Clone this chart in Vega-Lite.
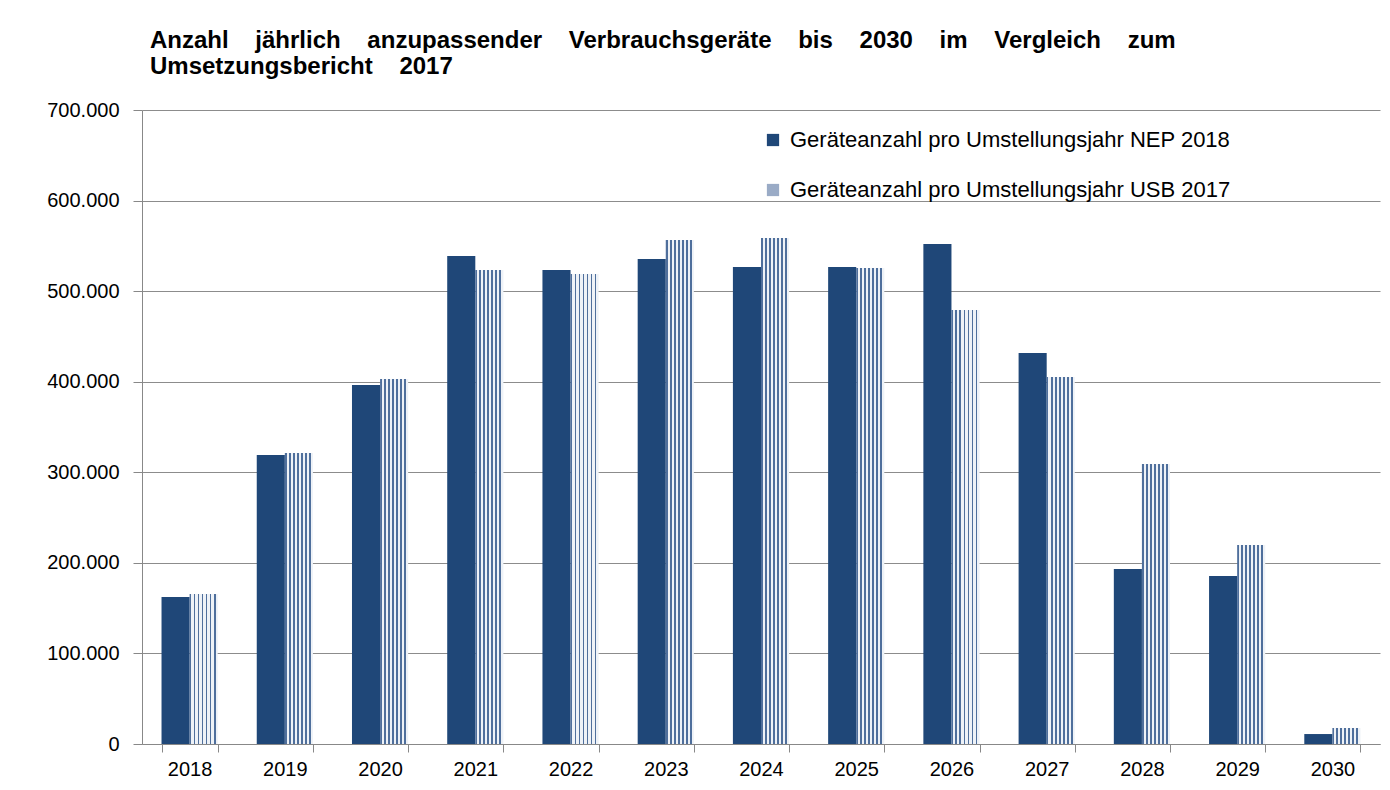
{
  "$schema": "https://vega.github.io/schema/vega-lite/v6.json",
  "width": 1238,
  "height": 634,
  "autosize": {"type": "none"},
  "padding": {"left": 142, "top": 110, "right": 10, "bottom": 46},
  "background": "white",
  "config": {
    "locale": {"number": {"decimal": ",", "thousands": ".", "grouping": [3], "currency": ["", " €"]}},
    "font": "Liberation Sans",
    "view": {"stroke": null}
  },
  "title": {
    "text": ["Anzahl \u00a0\u00a0\u00a0jährlich \u00a0\u00a0\u00a0anzupassender \u00a0\u00a0\u00a0Verbrauchsgeräte \u00a0\u00a0\u00a0bis \u00a0\u00a0\u00a02030 \u00a0\u00a0\u00a0im \u00a0\u00a0\u00a0Vergleich \u00a0\u00a0\u00a0zum", "Umsetzungsbericht \u00a0\u00a0\u00a02017"],
    "anchor": "start",
    "frame": "group",
    "dx": 8,
    "offset": 21,
    "fontSize": 24,
    "fontWeight": "bold",
    "font": "Liberation Sans",
    "lineHeight": 26,
    "color": "#000000"
  },
  "data": {
    "values": [
      {"year": "2018", "series": "Geräteanzahl pro Umstellungsjahr NEP 2018", "value": 162300},
      {"year": "2018", "series": "Geräteanzahl pro Umstellungsjahr USB 2017", "value": 165600},
      {"year": "2019", "series": "Geräteanzahl pro Umstellungsjahr NEP 2018", "value": 319100},
      {"year": "2019", "series": "Geräteanzahl pro Umstellungsjahr USB 2017", "value": 321300},
      {"year": "2020", "series": "Geräteanzahl pro Umstellungsjahr NEP 2018", "value": 396400},
      {"year": "2020", "series": "Geräteanzahl pro Umstellungsjahr USB 2017", "value": 403000},
      {"year": "2021", "series": "Geräteanzahl pro Umstellungsjahr NEP 2018", "value": 538800},
      {"year": "2021", "series": "Geräteanzahl pro Umstellungsjahr USB 2017", "value": 523400},
      {"year": "2022", "series": "Geräteanzahl pro Umstellungsjahr NEP 2018", "value": 523400},
      {"year": "2022", "series": "Geräteanzahl pro Umstellungsjahr USB 2017", "value": 519000},
      {"year": "2023", "series": "Geräteanzahl pro Umstellungsjahr NEP 2018", "value": 535500},
      {"year": "2023", "series": "Geräteanzahl pro Umstellungsjahr USB 2017", "value": 556500},
      {"year": "2024", "series": "Geräteanzahl pro Umstellungsjahr NEP 2018", "value": 526700},
      {"year": "2024", "series": "Geräteanzahl pro Umstellungsjahr USB 2017", "value": 558700},
      {"year": "2025", "series": "Geräteanzahl pro Umstellungsjahr NEP 2018", "value": 526700},
      {"year": "2025", "series": "Geräteanzahl pro Umstellungsjahr USB 2017", "value": 525600},
      {"year": "2026", "series": "Geräteanzahl pro Umstellungsjahr NEP 2018", "value": 552000},
      {"year": "2026", "series": "Geräteanzahl pro Umstellungsjahr USB 2017", "value": 479200},
      {"year": "2027", "series": "Geräteanzahl pro Umstellungsjahr NEP 2018", "value": 431700},
      {"year": "2027", "series": "Geräteanzahl pro Umstellungsjahr USB 2017", "value": 405200},
      {"year": "2028", "series": "Geräteanzahl pro Umstellungsjahr NEP 2018", "value": 193200},
      {"year": "2028", "series": "Geräteanzahl pro Umstellungsjahr USB 2017", "value": 309200},
      {"year": "2029", "series": "Geräteanzahl pro Umstellungsjahr NEP 2018", "value": 185500},
      {"year": "2029", "series": "Geräteanzahl pro Umstellungsjahr USB 2017", "value": 219700},
      {"year": "2030", "series": "Geräteanzahl pro Umstellungsjahr NEP 2018", "value": 11000},
      {"year": "2030", "series": "Geräteanzahl pro Umstellungsjahr USB 2017", "value": 17700}
    ]
  },
  "mark": {"type": "bar"},
  "encoding": {
    "x": {
      "field": "year",
      "type": "nominal",
      "title": null,
      "scale": {"paddingInner": 0.41, "paddingOuter": 0.205},
      "axis": {
        "labelAngle": 0,
        "labelFontSize": 20,
        "labelColor": "#000000",
        "labelPadding": 7,
        "domainColor": "#888888",
        "tickColor": "#888888",
        "tickBand": "extent",
        "tickSize": 8,
        "grid": false
      }
    },
    "xOffset": {"field": "series", "type": "nominal", "scale": {"paddingInner": 0, "paddingOuter": 0}},
    "y": {
      "field": "value",
      "type": "quantitative",
      "title": null,
      "scale": {"domain": [0, 700000], "nice": false},
      "axis": {
        "values": [0, 100000, 200000, 300000, 400000, 500000, 600000, 700000],
        "format": ",d",
        "labelFontSize": 20,
        "labelColor": "#000000",
        "labelPadding": 14,
        "domainColor": "#888888",
        "tickColor": "#888888",
        "tickSize": 9,
        "gridColor": "#8c8c8c",
        "gridWidth": 1
      }
    },
    "fill": {
      "field": "series",
      "type": "nominal",
      "scale": {"range": ["#1f4778", "#9aabc6"]},
      "condition": {
        "test": "indexof(datum.series, 'USB') >= 0",
        "value": {
          "gradient": "linear",
          "x1": 0, "y1": 0, "x2": 1, "y2": 0,
          "stops": [
            {"offset": 0, "color": "#4f6f9c"}, {"offset": 0.0643, "color": "#4f6f9c"},
            {"offset": 0.0643, "color": "#eef2f7"}, {"offset": 0.1429, "color": "#eef2f7"},
            {"offset": 0.1429, "color": "#4f6f9c"}, {"offset": 0.2071, "color": "#4f6f9c"},
            {"offset": 0.2071, "color": "#eef2f7"}, {"offset": 0.2857, "color": "#eef2f7"},
            {"offset": 0.2857, "color": "#4f6f9c"}, {"offset": 0.35, "color": "#4f6f9c"},
            {"offset": 0.35, "color": "#eef2f7"}, {"offset": 0.4286, "color": "#eef2f7"},
            {"offset": 0.4286, "color": "#4f6f9c"}, {"offset": 0.4929, "color": "#4f6f9c"},
            {"offset": 0.4929, "color": "#eef2f7"}, {"offset": 0.5714, "color": "#eef2f7"},
            {"offset": 0.5714, "color": "#4f6f9c"}, {"offset": 0.6357, "color": "#4f6f9c"},
            {"offset": 0.6357, "color": "#eef2f7"}, {"offset": 0.7143, "color": "#eef2f7"},
            {"offset": 0.7143, "color": "#4f6f9c"}, {"offset": 0.7786, "color": "#4f6f9c"},
            {"offset": 0.7786, "color": "#eef2f7"}, {"offset": 0.8571, "color": "#eef2f7"},
            {"offset": 0.8571, "color": "#4f6f9c"}, {"offset": 0.9214, "color": "#4f6f9c"},
            {"offset": 0.9214, "color": "#eef2f7"}, {"offset": 1, "color": "#eef2f7"}
          ]
        }
      },
      "legend": {
        "title": null,
        "orient": "none",
        "legendX": 620,
        "legendY": 19,
        "symbolType": "square",
        "symbolSize": 150,
        "symbolStrokeWidth": 0,
        "labelFontSize": 22,
        "labelColor": "#000000",
        "labelLimit": 700,
        "labelOffset": 6,
        "rowPadding": 28
      }
    }
  }
}
